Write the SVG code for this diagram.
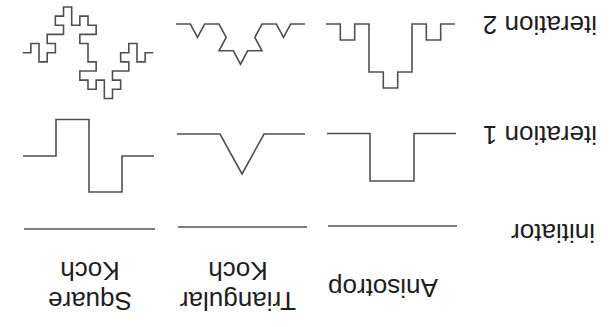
<svg xmlns="http://www.w3.org/2000/svg" width="609" height="327" viewBox="0 0 609 327">
<style>
.c{fill:none;stroke:#505050;stroke-width:1.6;stroke-linejoin:miter;stroke-linecap:butt}
.t{font-family:"Liberation Sans",Arial,sans-serif;font-size:26px;fill:#1e1e1e}
.m{text-anchor:middle}
</style>
<rect width="609" height="327" fill="#ffffff"/>
<g id="row-labels">
<text class="t" x="597" y="16" transform="rotate(180 597 16)">iteration 2</text>
<text class="t" x="597" y="126" transform="rotate(180 597 126)">iteration 1</text>
<text class="t" x="595" y="224" transform="rotate(180 595 224)">initiator</text>
</g>
<g id="col-square">
<text class="t m" x="90" y="292" transform="rotate(180 90 292)">Square</text>
<text class="t m" x="90" y="261.5" transform="rotate(180 90 261.5)">Koch</text>
<path class="c" d="M24,229 H155"/>
<path class="c" d="M23,156 H56 V119.5 H89 V192 H122 V156 H154"/>
<polyline class="c" points="22.70,52.70 30.86,52.70 30.86,43.55 39.03,43.55 39.03,61.85 47.19,61.85 47.19,52.70 55.35,52.70 55.35,43.55 47.19,43.55 47.19,34.40 63.51,34.40 63.51,25.25 55.35,25.25 55.35,16.10 63.51,16.10 63.51,6.95 71.68,6.95 71.68,25.25 79.84,25.25 79.84,16.10 88.00,16.10 88.00,25.25 96.16,25.25 96.16,34.40 79.84,34.40 79.84,43.55 88.00,43.55 88.00,61.85 96.16,61.85 96.16,71.00 79.84,71.00 79.84,80.15 88.00,80.15 88.00,89.30 96.16,89.30 96.16,80.15 104.33,80.15 104.33,98.45 112.49,98.45 112.49,89.30 120.65,89.30 120.65,80.15 112.49,80.15 112.49,71.00 128.81,71.00 128.81,61.85 120.65,61.85 120.65,52.70 128.81,52.70 128.81,43.55 136.98,43.55 136.98,61.85 145.14,61.85 145.14,52.70 153.30,52.70"/>
</g>
<g id="col-triangular">
<text class="t m" x="238" y="292" transform="rotate(180 238 292)">Triangular</text>
<text class="t m" x="238" y="261.5" transform="rotate(180 238 261.5)">Koch</text>
<path class="c" d="M178,227 H307"/>
<polyline class="c" points="177,134 220,134 242,174 264,134 305,134"/>
<polyline class="c" points="176,24 190.33,24 197.5,37.4 204.67,24 219,24 226.17,37.4 219,50.8 233.33,50.8 240.5,64.2 247.67,50.8 262,50.8 254.83,37.4 262,24 276.33,24 283.5,37.4 290.67,24 305,24"/>
</g>
<g id="col-anisotrop">
<text class="t m" x="383" y="279" transform="rotate(180 383 279)">Anisotrop</text>
<path class="c" d="M328,226 H457"/>
<path class="c" d="M327,133.5 H370 V181 H414 V133.5 H456"/>
<path class="c" d="M326,24 H340.3 V40 H354.7 V24 H369 V72 H383.3 V88 H397.7 V72 H412 V24 H426.3 V40 H440.7 V24 H455"/>
</g>
</svg>
